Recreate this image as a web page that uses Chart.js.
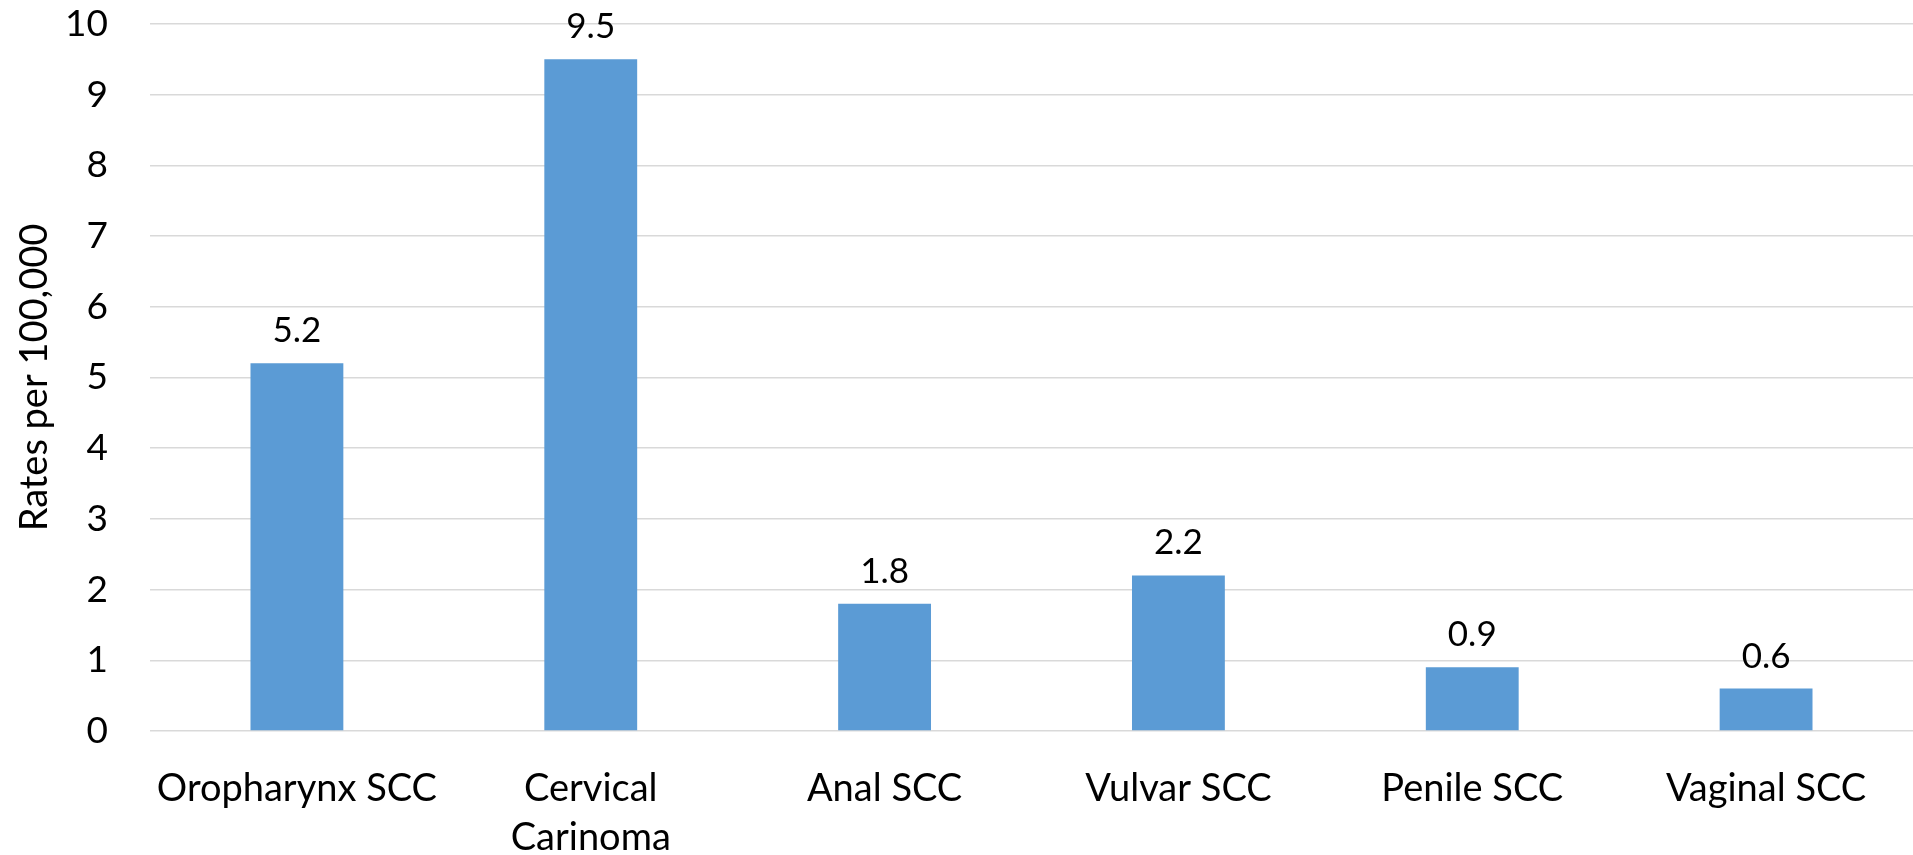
<!DOCTYPE html>
<html>
<head>
<meta charset="utf-8">
<script src="https://cdn.jsdelivr.net/npm/chart.js@4.4.1/dist/chart.umd.min.js"></script>
<style>
html,body{margin:0;padding:0;background:#fff;}
#wrap{width:1913px;height:855px;position:relative;}
</style>
</head>
<body>
<div id="wrap"><canvas id="c" width="1913" height="855"></canvas></div>
<script>
const categories = ['Oropharynx SCC', ['Cervical', 'Carinoma'], 'Anal SCC', 'Vulvar SCC', 'Penile SCC', 'Vaginal SCC'];
const rates = [5.2, 9.5, 1.8, 2.2, 0.9, 0.6];
const yTitle = 'Rates per 100,000';
const yMin = 0, yMax = 10, yStep = 1;

const FONT = 'Lato, "Open Sans", sans-serif';

const valueLabels = {
  id: 'valueLabels',
  afterDatasetsDraw(chart) {
    const ctx = chart.ctx;
    const meta = chart.getDatasetMeta(0);
    ctx.save();
    ctx.font = '35px ' + FONT;
    ctx.fillStyle = '#000';
    ctx.textAlign = 'center';
    ctx.textBaseline = 'alphabetic';
    meta.data.forEach((bar, i) => {
      ctx.fillText(rates[i].toFixed(1), bar.x, bar.y - 21);
    });
    ctx.restore();
  }
};

new Chart(document.getElementById('c'), {
  type: 'bar',
  data: {
    labels: categories,
    datasets: [{
      data: rates,
      backgroundColor: '#5B9BD5',
      borderWidth: 0,
      categoryPercentage: 1,
      barPercentage: 0.316
    }]
  },
  options: {
    responsive: false,
    animation: false,
    devicePixelRatio: 1,
    layout: { padding: { top: 24, right: 0, bottom: 0, left: 0 } },
    plugins: { legend: { display: false }, tooltip: { enabled: false } },
    scales: {
      x: {
        grid: { display: false, drawTicks: false },
        border: { display: false },
        ticks: {
          color: '#000',
          font: { family: FONT, size: 38, lineHeight: 1.3 },
          padding: 33,
          maxRotation: 0,
          autoSkip: false
        },
        afterFit(scale) { scale.height = 124; scale.paddingLeft = 0; scale.paddingRight = 0; }
      },
      y: {
        min: yMin, max: yMax,
        grid: { color: '#D9D9D9', lineWidth: 1.5, drawTicks: false },
        border: { display: false },
        ticks: {
          stepSize: yStep,
          color: '#000',
          font: { family: FONT, size: 37 },
          padding: 42
        },
        title: {
          display: true,
          text: yTitle,
          color: '#000',
          font: { family: FONT, size: 38, lineHeight: 1.2 },
          padding: { top: 12, bottom: 0 }
        },
        afterFit(scale) { scale.width = 150; scale.paddingTop = 0; scale.paddingBottom = 0; }
      }
    }
  },
  plugins: [valueLabels]
});
</script>
</body>
</html>
